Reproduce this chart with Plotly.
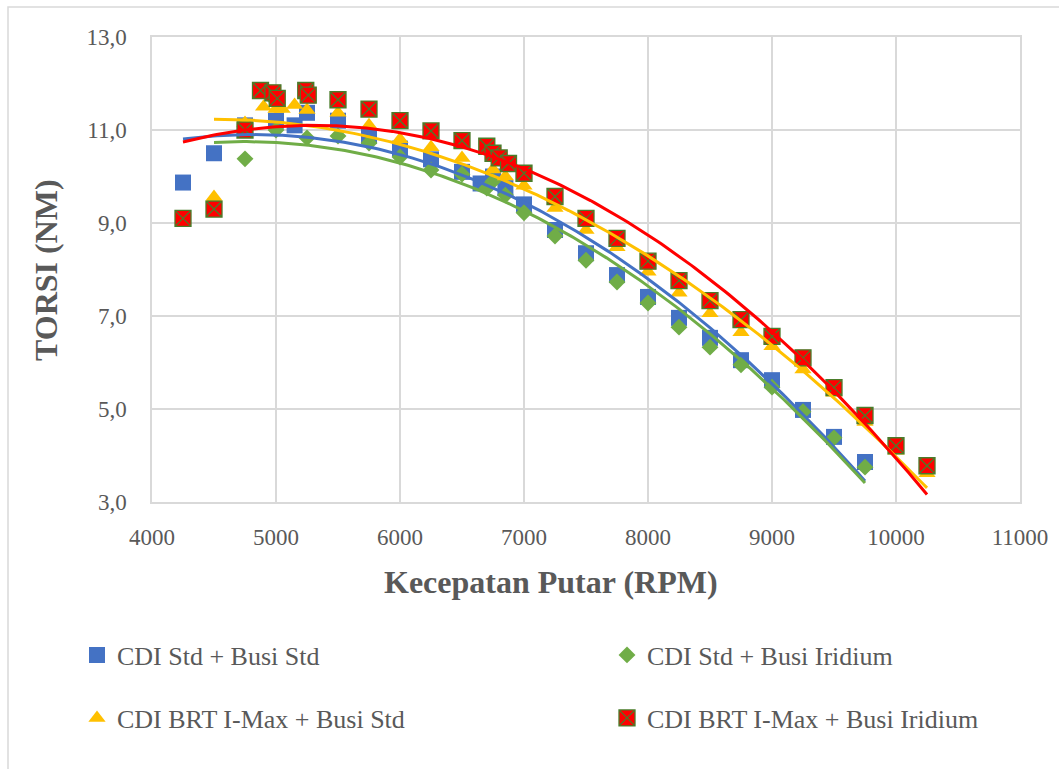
import numpy as np
import plotly.graph_objects as go

# ---- data ----
blue_name = "CDI Std + Busi Std"
blue_x = [4250, 4500, 4750, 5000, 5150, 5250, 5500, 5750, 6000, 6250, 6500, 6650, 6750, 6850,
          7000, 7250, 7500, 7750, 8000, 8250, 8500, 8750, 9000, 9250, 9500, 9750]
blue_y = [9.87, 10.5, 11.1, 11.2, 11.1, 11.37, 11.2, 10.87, 10.6, 10.37, 10.1, 9.85, 10.0, 9.75,
          9.4, 8.85, 8.35, 7.88, 7.41, 6.96, 6.53, 6.05, 5.62, 4.98, 4.4, 3.86]

green_name = "CDI Std + Busi Iridium"
green_x = [4500, 4750, 4950, 5000, 5250, 5500, 5750, 6000, 6250, 6500, 6700, 6750, 6850,
           7000, 7250, 7500, 7750, 8000, 8250, 8500, 8750, 9000, 9250, 9500, 9750]
green_y = [9.45, 10.38, 11.75, 11.0, 10.83, 10.87, 10.72, 10.42, 10.14, 10.05, 9.75, 9.9, 9.6,
           9.22, 8.72, 8.2, 7.73, 7.28, 6.76, 6.33, 5.95, 5.47, 4.94, 4.38, 3.75]

yellow_name = "CDI BRT I-Max + Busi Std"
yellow_x = [4500, 4750, 4900, 5000, 5050, 5150, 5250, 5500, 5750, 6000, 6250, 6500, 6750, 6850,
            7000, 7250, 7500, 7750, 8000, 8250, 8500, 8750, 9000, 9250, 9500, 9750, 10000, 10250]
yellow_y = [9.56, 11.15, 11.5, 11.45, 11.45, 11.54, 11.43, 11.37, 11.1, 10.8, 10.63, 10.4, 10.15, 10.0,
            9.8, 9.32, 8.85, 8.48, 7.95, 7.5, 7.06, 6.65, 6.35, 5.85, 5.35, 4.72, 4.1, 3.62]

red_name = "CDI BRT I-Max + Busi Iridium"
red_x = [4250, 4500, 4750, 4875, 4975, 5010, 5240, 5260, 5500, 5750, 6000, 6250, 6500, 6700, 6750,
         6800, 6875, 7000, 7250, 7500, 7750, 8000, 8250, 8500, 8750, 9000, 9250, 9500, 9750, 10000, 10250]
red_y = [9.1, 9.3, 11.0, 11.85, 11.8, 11.68, 11.85, 11.75, 11.65, 11.45, 11.2, 10.98, 10.77, 10.65, 10.5,
         10.4, 10.28, 10.07, 9.57, 9.1, 8.67, 8.18, 7.76, 7.33, 6.92, 6.56, 6.1, 5.46, 4.86, 4.21, 3.78]

x_title = "Kecepatan Putar (RPM)"
y_title = "TORSI (NM)"

# ---- styling ----
FONT = "Liberation Serif, Times New Roman, serif"
GREY = "#595959"
GRID = "#d9d9d9"

series = [
    dict(name=blue_name, x=blue_x, y=blue_y, color="#4472c4", symbol="square", size=16, lw=0, lc="#4472c4"),
    dict(name=green_name, x=green_x, y=green_y, color="#70ad47", symbol="diamond", size=13, lw=0, lc="#70ad47"),
    dict(name=yellow_name, x=yellow_x, y=yellow_y, color="#ffc000", symbol="triangle-up", size=15, lw=0, lc="#ffc000"),
    dict(name=red_name, x=red_x, y=red_y, color="#ff0000", symbol="square-x", size=16, lw=1.3, lc="#4a7c2a"),
]

fig = go.Figure()
legend_ids = ["legend", "legend2", "legend3", "legend4"]
for s, lid in zip(series, legend_ids):
    fig.add_trace(go.Scatter(
        x=s["x"], y=s["y"], mode="markers", name=s["name"], legend=lid,
        marker=dict(symbol=s["symbol"], size=s["size"], color=s["color"],
                    line=dict(width=s["lw"], color=s["lc"])),
    ))

# polynomial (order 2) trendlines computed from each series
for s in series:
    xs = np.array(s["x"], dtype=float)
    ys = np.array(s["y"], dtype=float)
    coef = np.polyfit(xs, ys, 2)
    xt = np.linspace(xs.min(), xs.max(), 200)
    fig.add_trace(go.Scatter(
        x=xt, y=np.polyval(coef, xt), mode="lines", showlegend=False, hoverinfo="skip",
        line=dict(color=s["color"], width=3),
    ))

W, H = 1059, 769
L, R, T, B = 152, 39, 37, 267
pw, ph = W - L - R, H - T - B

def px_x(px):
    return (px - L) / pw

def px_y(py):
    return (H - B - py) / ph

legend_common = dict(font=dict(family=FONT, size=26, color=GREY), bgcolor="rgba(0,0,0,0)",
                     xanchor="left", yanchor="middle", orientation="h")
layout_legends = {
    "legend": dict(x=px_x(77), y=px_y(655), **legend_common),
    "legend2": dict(x=px_x(607), y=px_y(655), **legend_common),
    "legend3": dict(x=px_x(77), y=px_y(718), **legend_common),
    "legend4": dict(x=px_x(607), y=px_y(718), **legend_common),
}

fig.update_layout(
    width=W, height=H,
    margin=dict(l=L, r=R, t=T, b=B),
    paper_bgcolor="white", plot_bgcolor="white",
    separators=",.",
    font=dict(family=FONT, color=GREY),
    **layout_legends,
)

fig.update_xaxes(
    range=[4000, 11000], dtick=1000, tick0=4000, tickformat="d",
    showgrid=True, gridcolor=GRID, gridwidth=1.5,
    showline=True, linecolor=GRID, linewidth=1.5, mirror=True,
    zeroline=False, ticks="", ticklabelstandoff=14,
    tickfont=dict(family=FONT, size=23, color=GREY),
)
fig.update_yaxes(
    range=[3, 13], dtick=2, tick0=3, tickformat=".1f",
    showgrid=True, gridcolor=GRID, gridwidth=1.5,
    showline=True, linecolor=GRID, linewidth=1.5, mirror=True,
    zeroline=False, ticks="", ticklabelstandoff=19,
    tickfont=dict(family=FONT, size=23, color=GREY),
)

# axis titles
fig.add_annotation(text=f"<b>{x_title}</b>", xref="paper", yref="paper",
                   x=px_x(551), y=px_y(582), xanchor="center", yanchor="middle",
                   showarrow=False, font=dict(family=FONT, size=32, color=GREY))
fig.add_annotation(text=f"<b>{y_title}</b>", xref="paper", yref="paper",
                   x=px_x(46), y=px_y(270), xanchor="center", yanchor="middle", textangle=-90,
                   showarrow=False, font=dict(family=FONT, size=32, color=GREY))

# chart outer border (cropped at right/bottom in reference)
fig.add_shape(type="rect", xref="paper", yref="paper",
              x0=px_x(8), x1=px_x(1100), y0=px_y(800), y1=px_y(7),
              line=dict(color=GRID, width=1.5), fillcolor="rgba(0,0,0,0)", layer="below")

fig.write_html("out.html")
